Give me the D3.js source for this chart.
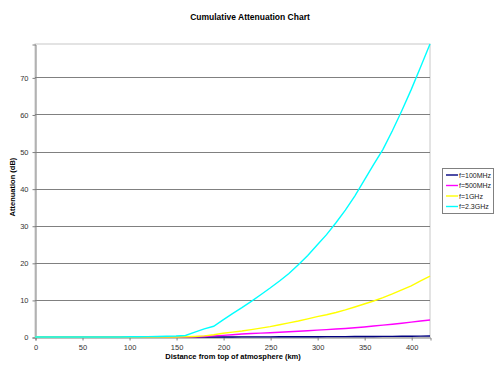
<!DOCTYPE html>
<html><head><meta charset="utf-8">
<script src="https://cdn.jsdelivr.net/npm/d3@7"></script>
<style>body{margin:0;background:#fff}svg{display:block;font-family:"Liberation Sans",Arial,sans-serif}</style>
</head><body><svg id="c" width="500" height="375"></svg>
<script>
const distance = [0,10,20,30,40,50,60,70,80,90,100,110,120,130,140,150,160,170,180,190,200,210,220,230,240,250,260,270,280,290,300,310,320,330,340,350,360,370,380,390,400,410,420];
const f100MHz = [0,0,0,0,0,0,0,0,0,0,0,0,0,0,0,0,0,0,0.01,0.01,0.02,0.02,0.03,0.03,0.04,0.04,0.05,0.05,0.06,0.07,0.08,0.09,0.1,0.11,0.12,0.13,0.14,0.16,0.17,0.19,0.21,0.23,0.25];
const f500MHz = [0,0,0,0,0,0,0,0,0,0,0,0,0,0,0,0,0,0.05,0.15,0.3,0.45,0.6,0.8,0.95,1.05,1.15,1.3,1.4,1.55,1.7,1.85,2.0,2.15,2.3,2.5,2.7,2.95,3.2,3.45,3.7,4.0,4.3,4.6];
const f1GHz = [0,0,0,0,0,0,0,0,0,0,0,0,0,0,0,0,0.05,0.15,0.3,0.6,1.0,1.3,1.6,2.0,2.4,2.8,3.3,3.8,4.3,4.9,5.5,6.0,6.6,7.3,8.1,8.9,9.7,10.6,11.6,12.7,13.8,15.1,16.4];
const f2_3GHz = [0,0,0,0,0,0,0,0,0,0,0.05,0.08,0.1,0.15,0.2,0.25,0.4,1.3,2.2,2.9,4.6,6.3,7.9,9.6,11.4,13.2,15.1,17.1,19.5,22.0,24.8,27.6,30.8,34.2,38.0,42.2,46.5,50.6,55.6,61.0,66.7,72.8,79];
const seriesNames = ["f=100MHz","f=500MHz","f=1GHz","f=2.3GHz"];
const seriesColors = ["#000080","#ff00ff","#ffff00","#00ffff"];
const xTicks = [0,50,100,150,200,250,300,350,400];
const yTicks = [0,10,20,30,40,50,60,70];

const svg = d3.select("#c");
const L=35, R=430, T=44, B=337;
const x = d3.scaleLinear().domain([0,420]).range([L,R]);
const y = d3.scaleLinear().domain([0,79]).range([B,T]);

svg.append("text").attr("x",250).attr("y",20).attr("text-anchor","middle")
  .attr("font-size",8.5).attr("font-weight","bold").text("Cumulative Attenuation Chart");

// plot border
svg.append("rect").attr("x",L).attr("y",T).attr("width",R-L).attr("height",B-T)
  .attr("fill","#fff").attr("stroke","#c8c8c8").attr("stroke-width",1);

// gridlines
svg.append("g").selectAll("line").data(yTicks.filter(d=>d>0)).join("line")
  .attr("x1",L).attr("x2",R).attr("y1",d=>Math.round(y(d))+0.5).attr("y2",d=>Math.round(y(d))+0.5)
  .attr("stroke","#808080").attr("stroke-width",1);

// axes
const yAxis = d3.axisLeft(y).tickValues(yTicks).tickSize(3).tickPadding(4);
const gy = svg.append("g").attr("transform",`translate(${L+0.5},0.5)`).call(yAxis);
const xAxis = d3.axisBottom(x).tickValues(xTicks).tickSize(3).tickPadding(4);
const gx = svg.append("g").attr("transform",`translate(0.5,${B+0.5})`).call(xAxis);
[gx,gy].forEach(g=>{
  g.select(".domain").attr("stroke","#808080");
  g.selectAll(".tick line").attr("stroke","#808080");
  g.selectAll(".tick text").attr("font-size",7.5).attr("fill","#333").attr("font-family","Liberation Sans, Arial, sans-serif");
});

svg.append("text").attr("x",233).attr("y",359).attr("text-anchor","middle")
  .attr("font-size",7.5).attr("font-weight","bold").text("Distance from top of atmosphere (km)");
svg.append("text").attr("transform","translate(15,187) rotate(-90)").attr("text-anchor","middle")
  .attr("font-size",7.5).attr("font-weight","bold").text("Attenuation (dB)");

const allSeries = [f100MHz,f500MHz,f1GHz,f2_3GHz];
const line = d3.line().x((d,i)=>x(distance[i])).y(d=>y(d));
allSeries.forEach((s,k)=>{
  svg.append("path").datum(s).attr("d",line).attr("fill","none")
    .attr("stroke",seriesColors[k]).attr("stroke-width",1.4);
});

// legend
const lg = svg.append("g");
lg.append("rect").attr("x",442.5).attr("y",168.5).attr("width",51).attr("height",45)
  .attr("fill","#fff").attr("stroke","#808080");
seriesNames.forEach((n,k)=>{
  const yy = 175 + k*10.5;
  lg.append("line").attr("x1",446).attr("x2",458).attr("y1",yy).attr("y2",yy)
    .attr("stroke",seriesColors[k]).attr("stroke-width",1.4);
  lg.append("text").attr("x",459).attr("y",yy+2.6).attr("font-size",7).attr("fill","#222").text(n);
});
</script></body></html>
